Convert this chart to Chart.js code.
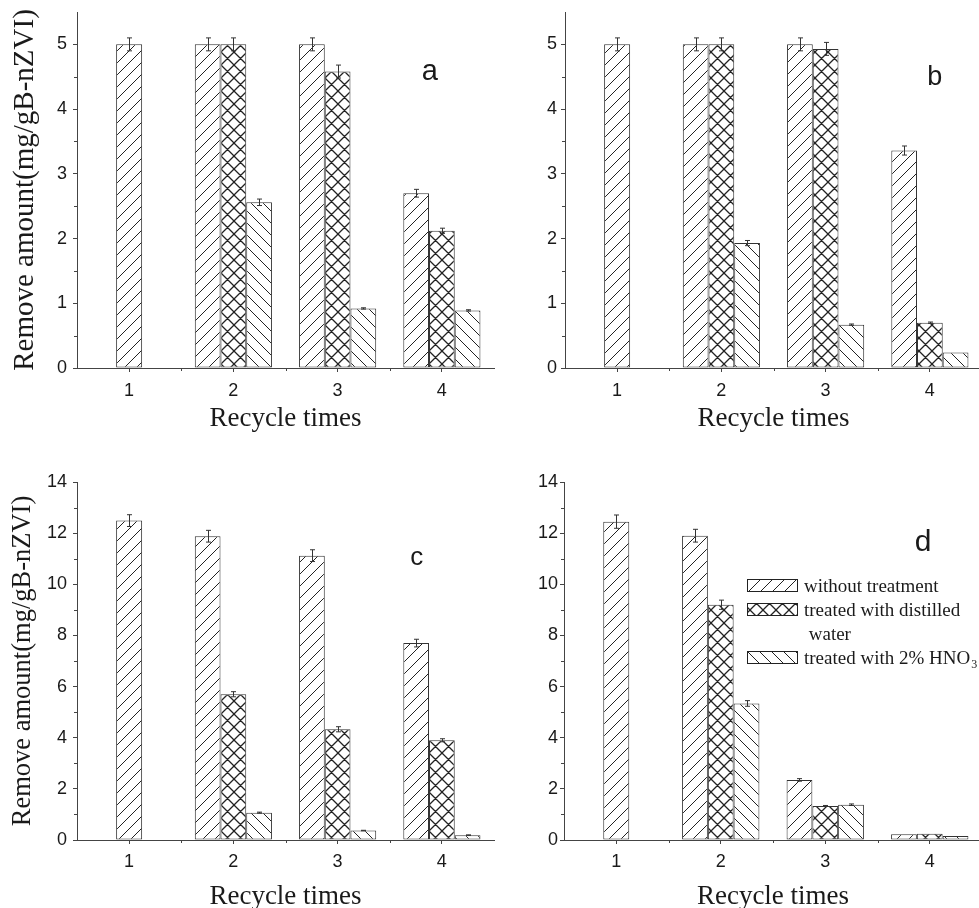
<!DOCTYPE html>
<html>
<head>
<meta charset="utf-8">
<script src="https://cdn.jsdelivr.net/npm/chart.js@4.4.0/dist/chart.umd.min.js"></script>
<style>
  html, body { margin: 0; padding: 0; background: #fff; overflow: hidden; }
  #wrap { position: relative; width: 979px; height: 908px; overflow: hidden; background: #fff; }
  #wrap canvas { position: absolute; }
</style>
</head>
<body>
<div id="wrap">
  <canvas id="pa" width="500" height="454" style="left:0;top:0"></canvas>
  <canvas id="pb" width="500" height="454" style="left:490px;top:0"></canvas>
  <canvas id="pc" width="500" height="460" style="left:0;top:454px"></canvas>
  <canvas id="pd" width="500" height="460" style="left:490px;top:454px"></canvas>
</div>
<script>
const recycleTimes = ['1', '2', '3', '4'];
const seriesNames = ['without treatment', 'treated with distilled water', 'treated with 2% HNO3'];

// panel a
const aWithout = [5.0, 5.0, 5.0, 2.70];
const aWithoutErr = [0.10, 0.10, 0.10, 0.06];
const aWater = [null, 5.0, 4.58, 2.12];
const aWaterErr = [0, 0.10, 0.10, 0.04];
const aAcid = [null, 2.56, 0.92, 0.89];
const aAcidErr = [0, 0.05, 0.01, 0.01];

// panel b
const bWithout = [5.0, 5.0, 5.0, 3.36];
const bWithoutErr = [0.10, 0.10, 0.10, 0.07];
const bWater = [null, 5.0, 4.93, 0.70];
const bWaterErr = [0, 0.10, 0.10, 0.01];
const bAcid = [null, 1.93, 0.67, 0.24];
const bAcidErr = [0, 0.04, 0.01, 0];

// panel c
const cWithout = [12.49, 11.88, 11.12, 7.70];
const cWithoutErr = [0.23, 0.23, 0.23, 0.15];
const cWater = [null, 5.70, 4.33, 3.90];
const cWaterErr = [0, 0.10, 0.10, 0.06];
const cAcid = [null, 1.07, 0.37, 0.19];
const cAcidErr = [0, 0.02, 0.01, 0.01];

// panel d
const dWithout = [12.45, 11.90, 2.35, 0.22];
const dWithoutErr = [0.26, 0.25, 0.05, 0];
const dWater = [null, 9.20, 1.33, 0.24];
const dWaterErr = [0, 0.18, 0.02, 0];
const dAcid = [null, 5.34, 1.38, 0.16];
const dAcidErr = [0, 0.11, 0.03, 0];

const INK = '#1a1a1a';
const AXIS = '#444';

// hatch fills
function hatch(kind, size, lw) {
  const c = document.createElement('canvas');
  c.width = size; c.height = size;
  const g = c.getContext('2d');
  g.fillStyle = '#fff';
  g.fillRect(0, 0, size, size);
  g.strokeStyle = '#222';
  g.lineWidth = lw;
  g.beginPath();
  if (kind !== 'back') {
    for (const o of [-size, 0, size]) { g.moveTo(o, size); g.lineTo(o + size, 0); }
  }
  if (kind !== 'fwd') {
    for (const o of [-size, 0, size]) { g.moveTo(o, 0); g.lineTo(o + size, size); }
  }
  g.stroke();
  return g.createPattern(c, 'repeat');
}
const fills = [hatch('fwd', 12, 1), hatch('cross', 13, 1.3), hatch('back', 12, 1)];

const errorBars = {
  id: 'errorBars',
  afterDatasetsDraw(chart) {
    const ctx = chart.ctx;
    const y = chart.scales.y;
    ctx.save();
    ctx.strokeStyle = '#333';
    ctx.lineWidth = 1;
    chart.data.datasets.forEach((ds, di) => {
      chart.getDatasetMeta(di).data.forEach((bar, i) => {
        const v = ds.data[i], e = ds.errors[i];
        if (v == null || !e) return;
        const top = y.getPixelForValue(v + e), bot = y.getPixelForValue(v - e);
        const x = Math.round(bar.x) + 0.5;
        ctx.beginPath();
        ctx.moveTo(x, top); ctx.lineTo(x, bot);
        ctx.moveTo(x - 2.5, top); ctx.lineTo(x + 2.5, top);
        ctx.moveTo(x - 2.5, bot); ctx.lineTo(x + 2.5, bot);
        ctx.stroke();
      });
    });
    ctx.restore();
  }
};

// minor ticks, panel letter and legend
const deco = {
  id: 'deco',
  afterDraw(chart, args, opts) {
    const {ctx, chartArea: a, scales: {x, y}} = chart;
    ctx.save();
    ctx.strokeStyle = AXIS;
    ctx.lineWidth = 1;
    ctx.beginPath();
    for (let v = opts.minor; v < y.max - 1e-6; v += opts.minor) {
      if (Math.abs(v / opts.major - Math.round(v / opts.major)) < 1e-6) continue;
      const py = Math.round(y.getPixelForValue(v)) + 0.5;
      ctx.moveTo(a.left - 3, py); ctx.lineTo(a.left, py);
    }
    for (let i = 0; i < recycleTimes.length - 1; i++) {
      const px = Math.round((x.getPixelForValue(i) + x.getPixelForValue(i + 1)) / 2) + 0.5;
      ctx.moveTo(px, a.bottom); ctx.lineTo(px, a.bottom + 3);
    }
    ctx.stroke();

    ctx.fillStyle = INK;
    ctx.font = opts.letterSize + 'px "Liberation Sans", Arial, sans-serif';
    ctx.textAlign = 'center';
    ctx.textBaseline = 'middle';
    ctx.fillText(opts.letter, a.left + opts.lx * (a.right - a.left), a.top + opts.ly * (a.bottom - a.top));

    if (opts.legend) {
      const lx = a.left + opts.legend.dx, ly = a.top + opts.legend.dy;
      const rows = [
        {ds: 0, line: 0, text: ['without treatment']},
        {ds: 1, line: 1, text: ['treated with distilled', ' water']},
        {ds: 2, line: 3, text: ['treated with 2% HNO'], sub: '3'}
      ];
      ctx.font = '19px "Liberation Serif", "Times New Roman", serif';
      ctx.textAlign = 'left';
      ctx.textBaseline = 'alphabetic';
      rows.forEach(r => {
        const by = ly + r.line * 24;
        ctx.fillStyle = chart.data.datasets[r.ds].backgroundColor;
        ctx.fillRect(lx, by, 50, 12);
        ctx.strokeStyle = '#222';
        ctx.strokeRect(lx + 0.5, by + 0.5, 50, 12);
        ctx.fillStyle = INK;
        r.text.forEach((t, k) => ctx.fillText(t, lx + 57, by + 13 + k * 24));
        if (r.sub) {
          const w = ctx.measureText(r.text[0]).width;
          ctx.font = '12px "Liberation Serif", "Times New Roman", serif';
          ctx.fillText(r.sub, lx + 57 + w + 1, by + 17);
          ctx.font = '19px "Liberation Serif", "Times New Roman", serif';
        }
      });
    }
    ctx.restore();
  }
};

function makePanel(id, p) {
  const values = [p.without, p.water, p.acid];
  const errs = [p.withoutErr, p.waterErr, p.acidErr];
  new Chart(document.getElementById(id), {
    type: 'bar',
    data: {
      labels: recycleTimes,
      datasets: values.map((v, k) => ({
        label: seriesNames[k],
        data: v,
        errors: errs[k],
        backgroundColor: fills[k],
        borderColor: '#333',
        borderWidth: 1,
        borderSkipped: false
      }))
    },
    options: {
      responsive: false,
      animation: false,
      events: [],
      layout: { padding: p.pad },
      datasets: {
        bar: { skipNull: true, categoryPercentage: 0.74, barPercentage: 1, maxBarThickness: 26 }
      },
      plugins: {
        legend: { display: false },
        tooltip: { enabled: false },
        deco: p.deco
      },
      scales: {
        x: {
          offset: true,
          grid: { offset: false, drawOnChartArea: false, tickLength: 4, color: AXIS },
          border: { color: AXIS, width: 1 },
          ticks: { color: INK, padding: p.xPad, font: { family: '"Liberation Sans", Arial, sans-serif', size: 18 } },
          title: {
            display: true, text: 'Recycle times', color: INK,
            font: { family: '"Liberation Serif", "Times New Roman", serif', size: 27, lineHeight: 1 },
            padding: { top: 0, bottom: p.xTitlePad }
          },
          afterFit: s => { s.height = p.xh; s.paddingLeft = 0; s.paddingRight = 0; }
        },
        y: {
          min: 0, max: p.ymax,
          grid: { drawOnChartArea: false, tickLength: 4, color: AXIS },
          border: { color: AXIS, width: 1 },
          ticks: {
            stepSize: p.deco.major, includeBounds: false, color: INK, padding: p.yPad,
            font: { family: '"Liberation Sans", Arial, sans-serif', size: 18 }
          },
          title: {
            display: !!p.yTitleSize, text: 'Remove amount(mg/gB-nZVI)', color: INK,
            font: { family: '"Liberation Serif", "Times New Roman", serif', size: p.yTitleSize || 12, lineHeight: 1 },
            padding: { top: p.yTitlePad || 0, bottom: 0 }
          },
          afterFit: s => { s.width = p.yw; s.paddingTop = 0; s.paddingBottom = 0; }
        }
      }
    },
    plugins: [errorBars, deco]
  });
}

makePanel('pa', {
  without: aWithout, withoutErr: aWithoutErr, water: aWater, waterErr: aWaterErr, acid: aAcid, acidErr: aAcidErr,
  pad: { top: 12, right: 6, left: 0, bottom: 0 }, yw: 77, xh: 86, ymax: 5.5, yPad: 6, xPad: 8,
  xTitlePad: 22, yTitleSize: 29, yTitlePad: 11,
  deco: { major: 1, minor: 0.5, letter: 'a', letterSize: 29, lx: 0.846, ly: 0.169 }
});
makePanel('pb', {
  without: bWithout, withoutErr: bWithoutErr, water: bWater, waterErr: bWaterErr, acid: bAcid, acidErr: bAcidErr,
  pad: { top: 12, right: 8, left: 0, bottom: 0 }, yw: 75, xh: 86, ymax: 5.5, yPad: 4, xPad: 8,
  xTitlePad: 22,
  deco: { major: 1, minor: 0.5, letter: 'b', letterSize: 27, lx: 0.887, ly: 0.183 }
});
makePanel('pc', {
  without: cWithout, withoutErr: cWithoutErr, water: cWater, waterErr: cWaterErr, acid: cAcid, acidErr: cAcidErr,
  pad: { top: 28, right: 6, left: 0, bottom: 0 }, yw: 77, xh: 74, ymax: 14, yPad: 6, xPad: 7,
  xTitlePad: 4, yTitleSize: 26.5, yTitlePad: 10,
  deco: { major: 2, minor: 1, letter: 'c', letterSize: 26, lx: 0.815, ly: 0.212 }
});
makePanel('pd', {
  without: dWithout, withoutErr: dWithoutErr, water: dWater, waterErr: dWaterErr, acid: dAcid, acidErr: dAcidErr,
  pad: { top: 28, right: 8, left: 0, bottom: 0 }, yw: 74, xh: 74, ymax: 14, yPad: 2, xPad: 7,
  xTitlePad: 4,
  deco: { major: 2, minor: 1, letter: 'd', letterSize: 30, lx: 0.859, ly: 0.170,
          legend: { dx: 183, dy: 97 } }
});
</script>
</body>
</html>
